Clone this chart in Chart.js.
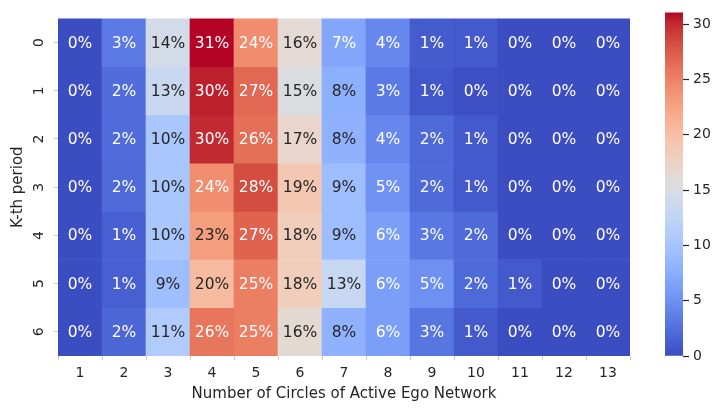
<!DOCTYPE html>
<html><head><meta charset="utf-8">
<script src="https://cdn.jsdelivr.net/npm/chart.js@4/dist/chart.umd.min.js"></script>
<style>
html,body{margin:0;padding:0;background:#fff;}
#wrap{position:relative;width:714px;height:408px;overflow:hidden;}
#main{position:absolute;left:0;top:0;}
#cbar{position:absolute;left:640px;top:0;}
</style></head><body>
<div id="wrap">
<canvas id="main" width="640" height="408"></canvas>
<canvas id="cbar" width="74" height="408"></canvas>
</div>
<script>
// ---- data ----
const columnLabels = ['1','2','3','4','5','6','7','8','9','10','11','12','13'];
const rowLabels = ['0','1','2','3','4','5','6'];
const row0 = [0.1, 3.2, 14.3, 31.05, 24.3, 16.2, 6.9, 4.3, 1.1, 1.0, 0.1, 0.1, 0.1];
const row1 = [0.1, 2.3, 13.3, 30.3, 26.7, 15.2, 7.8, 3.3, 0.8, 0.2, 0.1, 0.05, 0.05];
const row2 = [0.1, 2.2, 10.3, 30.0, 26.2, 17.0, 8.0, 4.3, 2.0, 1.0, 0.1, 0.05, 0.05];
const row3 = [0.1, 2.0, 10.2, 24.2, 28.3, 19.0, 9.3, 5.2, 2.1, 1.0, 0.1, 0.05, 0.05];
const row4 = [0.1, 1.3, 10.2, 23.0, 27.0, 18.2, 9.3, 6.2, 3.1, 2.1, 0.1, 0.05, 0.05];
const row5 = [0.1, 1.3, 9.3, 20.3, 25.2, 18.2, 13.0, 6.2, 5.0, 2.0, 1.0, 0.1, 0.05];
const row6 = [0.1, 1.8, 11.0, 25.8, 25.2, 16.3, 8.0, 6.2, 3.0, 1.0, 0.1, 0.05, 0.05];
const rows = [row0, row1, row2, row3, row4, row5, row6];
const colorbarTicks = [0, 5, 10, 15, 20, 25, 30];
const xTitle = 'Number of Circles of Active Ego Network';
const yTitle = 'K-th period';

const vmin = 0;
const vmax = Math.max(...rows.flat());

// ---- coolwarm colormap ----
const CW = [[59,76,192],[68,90,204],[77,104,215],[87,117,225],[98,130,234],[108,142,241],[119,154,247],[130,165,251],[141,176,254],[152,185,255],[163,194,255],[174,201,253],[184,208,249],[194,213,244],[204,217,238],[213,219,230],[221,221,221],[229,216,209],[236,211,197],[241,204,184],[245,196,172],[247,187,159],[247,177,147],[247,166,134],[244,154,123],[241,141,111],[236,127,99],[229,112,88],[222,96,77],[213,80,66],[203,62,56],[192,40,47],[180,4,38]];
function cwRGB(t){
  t = Math.max(0, Math.min(1, t));
  const p = t * (CW.length - 1);
  const i = Math.min(CW.length - 2, Math.floor(p));
  const f = p - i;
  return CW[i].map((c, k) => c + (CW[i+1][k] - c) * f);
}
function rgbStr(c){ return 'rgb(' + c.map(x => Math.round(x)).join(',') + ')'; }
function colorFor(v){ return rgbStr(cwRGB((v - vmin) / (vmax - vmin))); }
function textColorFor(v){
  const c = cwRGB((v - vmin) / (vmax - vmin)).map(x => {
    const s = x / 255;
    return s <= 0.03928 ? s / 12.92 : Math.pow((s + 0.055) / 1.055, 2.4);
  });
  const lum = 0.2126 * c[0] + 0.7152 * c[1] + 0.0722 * c[2];
  return lum > 0.408 ? '#262626' : '#ffffff';
}

const FONT = 'DejaVu Sans';
const DARK = '#262626';

const annotPlugin = {
  id: 'annot',
  afterDatasetsDraw(chart){
    const ctx = chart.ctx;
    ctx.save();
    ctx.font = '15.5px "' + FONT + '"';
    ctx.textAlign = 'center';
    ctx.textBaseline = 'middle';
    chart.data.datasets.forEach((ds, di) => {
      const meta = chart.getDatasetMeta(di);
      meta.data.forEach((el, i) => {
        const v = rows[di][i];
        ctx.fillStyle = textColorFor(v);
        ctx.fillText(Math.round(v) + '%', el.x, (el.y + el.base) / 2 + 1);
      });
    });
    ctx.restore();
  }
};

const datasets = rows.map((r, ri) => ({
  label: rowLabels[ri],
  data: r.map(() => [ri, ri + 1]),
  backgroundColor: r.map(v => colorFor(v)),
  borderWidth: 0,
  grouped: false,
  barPercentage: 1,
  categoryPercentage: 1
}));

new Chart(document.getElementById('main'), {
  type: 'bar',
  data: { labels: columnLabels, datasets },
  options: {
    responsive: false,
    animation: false,
    events: [],
    layout: { padding: { top: 1, right: 10, left: 0, bottom: 0 } },
    plugins: { legend: { display: false }, tooltip: { enabled: false } },
    scales: {
      x: {
        type: 'category',
        grid: { display: true, drawOnChartArea: false, drawTicks: true, tickLength: 4, color: '#cccccc', tickColor: '#cccccc' },
        border: { display: false },
        ticks: { color: DARK, font: { family: FONT, size: 14 }, padding: 5, maxRotation: 0, minRotation: 0 },
        title: { display: true, text: xTitle, color: DARK, font: { family: FONT, size: 15 }, padding: { top: 0, bottom: 5 } },
        afterFit(s){ s.height = 52; }
      },
      y: {
        type: 'linear',
        min: 0, max: rowLabels.length,
        reverse: true,
        afterBuildTicks(s){ s.ticks = rowLabels.map((l, i) => ({ value: i + 0.5 })); },
        grid: { display: true, drawOnChartArea: false, drawTicks: true, tickLength: 4, color: '#cccccc', tickColor: '#cccccc' },
        border: { display: false },
        ticks: {
          color: DARK, font: { family: FONT, size: 14 }, padding: 10,
          minRotation: 90, maxRotation: 90, crossAlign: 'center',
          callback(value, index){ return rowLabels[index]; }
        },
        title: { display: true, text: yTitle, color: DARK, font: { family: FONT, size: 15 }, padding: { top: 9, bottom: 0 } },
        afterFit(s){ s.width = 58; }
      }
    }
  },
  plugins: [annotPlugin]
});

// ---- colorbar ----
new Chart(document.getElementById('cbar'), {
  type: 'bar',
  data: {
    labels: [''],
    datasets: [{
      data: [[vmin, vmax]],
      borderWidth: 0,
      barPercentage: 1,
      categoryPercentage: 1,
      backgroundColor(ctx){
        const chart = ctx.chart;
        const ys = chart.scales.y;
        if (!ys || !chart.chartArea) return 'rgb(221,221,221)';
        const y0 = ys.getPixelForValue(vmin), y1 = ys.getPixelForValue(vmax);
        const g = chart.ctx.createLinearGradient(0, y0, 0, y1);
        CW.forEach((c, i) => g.addColorStop(i / (CW.length - 1), rgbStr(c)));
        return g;
      }
    }]
  },
  options: {
    responsive: false,
    animation: false,
    events: [],
    layout: { padding: { top: 1, right: 0, left: 25, bottom: 52 } },
    plugins: { legend: { display: false }, tooltip: { enabled: false } },
    scales: {
      x: { display: false },
      y: {
        position: 'right',
        min: vmin, max: vmax,
        afterBuildTicks(s){ s.ticks = colorbarTicks.map(v => ({ value: v })); },
        grid: { display: true, drawOnChartArea: false, drawTicks: true, tickLength: 6, tickWidth: 1.2, tickColor: DARK },
        border: { display: false },
        ticks: { color: DARK, font: { family: FONT, size: 14 }, padding: 4 },
        afterFit(s){ s.width = 31; }
      }
    }
  }
});
</script>
</body></html>
